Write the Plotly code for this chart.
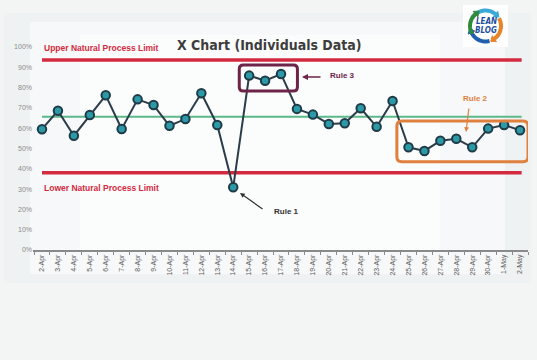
import numpy as np
import plotly.graph_objects as go

# ---------------- data ----------------
dates = ["2-Apr", "3-Apr", "4-Apr", "5-Apr", "6-Apr", "7-Apr", "8-Apr", "9-Apr", "10-Apr",
         "11-Apr", "12-Apr", "13-Apr", "14-Apr", "15-Apr", "16-Apr", "17-Apr", "18-Apr",
         "19-Apr", "20-Apr", "21-Apr", "22-Apr", "23-Apr", "24-Apr", "25-Apr", "26-Apr",
         "27-Apr", "28-Apr", "29-Apr", "30-Apr", "1-May", "2-May"]
values = [59.5, 68.6, 56.3, 66.5, 76.2, 59.6, 74.2, 71.4, 61.2, 64.5, 77.2, 61.6, 30.9,
          85.9, 83.4, 86.7, 69.5, 66.7, 62.1, 62.4, 69.8, 60.7, 73.4, 50.6, 48.8, 53.8,
          54.8, 50.6, 59.8, 61.6, 59.0]
y_ticks = [0, 10, 20, 30, 40, 50, 60, 70, 80, 90, 100]
y_tick_labels = [f"{v}%" for v in y_ticks]
upper_limit = 93.6
lower_limit = 38.1
center_line = 65.7

# ---------------- layout geometry ----------------
FW, FH = 537, 360
L, R, T, B = 33, 9, 47, 110
W = FW - L - R
H = FH - T - B

COND = "DejaVu Sans Condensed, Roboto Condensed, Liberation Sans Narrow, Roboto, sans-serif"
SANS = "Liberation Sans, Arial, sans-serif"


def px(x):
    return (x - L) / W


def py(y):
    return (FH - B - y) / H


xidx = list(range(len(dates)))

fig = go.Figure()

fig.add_trace(go.Scatter(
    x=xidx, y=values, mode="lines+markers",
    line=dict(color="#2c3d4a", width=2),
    marker=dict(size=8.5, color="#2b9aa6", line=dict(color="#1f3b48", width=2)),
    hoverinfo="skip", showlegend=False))

shapes = []
# panel background
shapes.append(dict(type="rect", xref="paper", yref="paper", layer="below",
                   x0=px(4), x1=px(531), y0=py(13), y1=py(283),
                   fillcolor="#eef2f3", line=dict(width=0)))
shapes.append(dict(type="rect", xref="paper", yref="paper", layer="below",
                   x0=px(30), x1=px(505), y0=py(22), y1=py(274),
                   fillcolor="#f6f8f9", line=dict(width=0)))
shapes.append(dict(type="rect", xref="paper", yref="paper", layer="below",
                   x0=px(80), x1=px(440), y0=py(35), y1=py(250),
                   fillcolor="#fbfcfc", line=dict(width=0)))

last = len(dates) - 1
for yv, col, wd in [(upper_limit, "#d42a3f", 3.5), (lower_limit, "#d42a3f", 3.5),
                    (center_line, "#5cb98a", 2)]:
    shapes.append(dict(type="line", xref="x", yref="y", x0=0, x1=last + 0.1,
                       y0=yv, y1=yv, line=dict(color=col, width=wd), layer="below"))


def rrect(x0, x1, y0, y1, rx, ry):
    return (f"M {x0+rx},{y0} L {x1-rx},{y0} Q {x1},{y0} {x1},{y0+ry} "
            f"L {x1},{y1-ry} Q {x1},{y1} {x1-rx},{y1} L {x0+rx},{y1} "
            f"Q {x0},{y1} {x0},{y1-ry} L {x0},{y0+ry} Q {x0},{y0} {x0+rx},{y0} Z")


sx = (520 - 42) / 30.0
sy = H / 100.0
shapes.append(dict(type="path", xref="x", yref="y",
                   path=rrect(12.38, 16.03, 78.3, 91.1, 4 / sx, 4 / sy),
                   line=dict(color="#6e2448", width=3)))
shapes.append(dict(type="path", xref="x", yref="y",
                   path=rrect(22.27, 30.5, 43.5, 63.5, 5 / sx, 5 / sy),
                   line=dict(color="#e0803e", width=3)))

# logo
shapes.append(dict(type="rect", xref="paper", yref="paper",
                   x0=px(463), x1=px(508), y0=py(5), y1=py(47),
                   fillcolor="#ffffff", line=dict(width=0)))
cx, cy, rad = 485.5, 26.0, 15.5


def arc(a0, a1, n=14):
    pts = []
    for a in np.linspace(np.radians(a0), np.radians(a1), n):
        pts.append((cx + rad * np.cos(a), cy - rad * np.sin(a)))
    return pts


def path_from(pts):
    return "M " + " L ".join(f"{px(x):.5f},{py(y):.5f}" for x, y in pts)


def head(pt, ang_deg, size=5):
    a = np.radians(ang_deg)
    tip = (pt[0] + size * np.cos(a), pt[1] - size * np.sin(a))
    pa = a + np.pi / 2
    b1 = (pt[0] + size * 0.8 * np.cos(pa), pt[1] - size * 0.8 * np.sin(pa))
    b2 = (pt[0] - size * 0.8 * np.cos(pa), pt[1] + size * 0.8 * np.sin(pa))
    return path_from([tip, b1, b2]) + " Z"


logo_arcs = [(150, 50, "#3aa9d8"), (30, -55, "#e8832a"), (-75, -155, "#1f5fae"),
             (210, 130, "#2e8b3a")]
for a0, a1, col in logo_arcs:
    pts = arc(a0, a1)
    shapes.append(dict(type="path", xref="paper", yref="paper", path=path_from(pts),
                       line=dict(color=col, width=4)))
    end = pts[-1]
    tang = a1 - 90
    shapes.append(dict(type="path", xref="paper", yref="paper", path=head(end, tang, 4.5),
                       fillcolor=col, line=dict(color=col, width=1)))

annotations = []
annotations.append(dict(xref="paper", yref="paper", x=px(269), y=py(35), xanchor="center",
                        text="<b>X Chart (Individuals Data)</b>", showarrow=False,
                        font=dict(family=COND, size=14, color="#3d3d3d")))
annotations.append(dict(xref="paper", yref="paper", x=px(486), y=py(21.5), xanchor="center",
                        yanchor="middle", text="<b><i>LEAN</i></b>", showarrow=False,
                        font=dict(family=COND, size=8, color="#1f4f9c")))
annotations.append(dict(xref="paper", yref="paper", x=px(486), y=py(30.5), xanchor="center",
                        yanchor="middle", text="<b><i>BLOG</i></b>", showarrow=False,
                        font=dict(family=COND, size=8, color="#1f4f9c")))


def dx(p):
    return (p - 42) / sx


def dy(p):
    return (FH - B - p) / sy


lab_font = dict(family=SANS, size=8.5, color="#d42a3f")
annotations.append(dict(xref="x", yref="y", x=0, y=dy(48), xanchor="left",
                        text="<b>Upper Natural Process Limit</b>", showarrow=False, font=lab_font))
annotations.append(dict(xref="x", yref="y", x=0, y=dy(188), xanchor="left",
                        text="<b>Lower Natural Process Limit</b>", showarrow=False, font=lab_font))

annotations.append(dict(xref="x", yref="y", x=dx(328), y=dy(75), xanchor="left",
                        text="<b>Rule 3</b>", showarrow=False,
                        font=dict(family=SANS, size=8, color="#6e2448")))
annotations.append(dict(xref="x", yref="y", x=dx(302), y=dy(77), ax=20, ay=0, text="",
                        showarrow=True, arrowhead=2, arrowsize=0.8, arrowwidth=1.5,
                        arrowcolor="#6e2448"))
annotations.append(dict(xref="x", yref="y", x=dx(475), y=dy(98), xanchor="center",
                        text="<b>Rule 2</b>", showarrow=False,
                        font=dict(family=SANS, size=8, color="#e0803e")))
annotations.append(dict(xref="x", yref="y", x=dx(466), y=dy(132), ax=3, ay=-25, text="",
                        showarrow=True, arrowhead=2, arrowsize=0.8, arrowwidth=1.2,
                        arrowcolor="#e0803e"))
annotations.append(dict(xref="x", yref="y", x=dx(272), y=dy(211), xanchor="left",
                        text="<b>Rule 1</b>", showarrow=False,
                        font=dict(family=SANS, size=8, color="#333333")))
annotations.append(dict(xref="x", yref="y", x=dx(240), y=dy(193), ax=24, ay=17, text="",
                        showarrow=True, arrowhead=2, arrowsize=0.8, arrowwidth=1.2,
                        arrowcolor="#333333"))

fig.update_layout(
    width=FW, height=FH,
    margin=dict(l=L, r=R, t=T, b=B),
    paper_bgcolor="#f3f4f4", plot_bgcolor="rgba(0,0,0,0)",
    shapes=shapes, annotations=annotations,
    xaxis=dict(range=[-0.565, 30.5], tickvals=xidx, ticktext=dates, tickangle=-90,
               showgrid=False, zeroline=False, showline=True, linecolor="#8a8a8a",
               linewidth=1.5, ticks="",
               minor=dict(tickvals=[i - 0.5 for i in range(len(dates) + 1)],
                          ticks="outside", ticklen=3, tickcolor="#8a8a8a", tickwidth=1),
               tickfont=dict(family=SANS, size=7, color="#5a5a5a")),
    yaxis=dict(range=[0, 100], tickvals=y_ticks, ticktext=y_tick_labels,
               showgrid=False, zeroline=False, showline=False, ticks="",
               tickfont=dict(family=SANS, size=7, color="#8a8a8a")),
)

fig.write_html("out.html", config={"displayModeBar": False},
               post_script="document.body.style.margin='0';"
               "document.body.style.background='#f3f4f4';")
